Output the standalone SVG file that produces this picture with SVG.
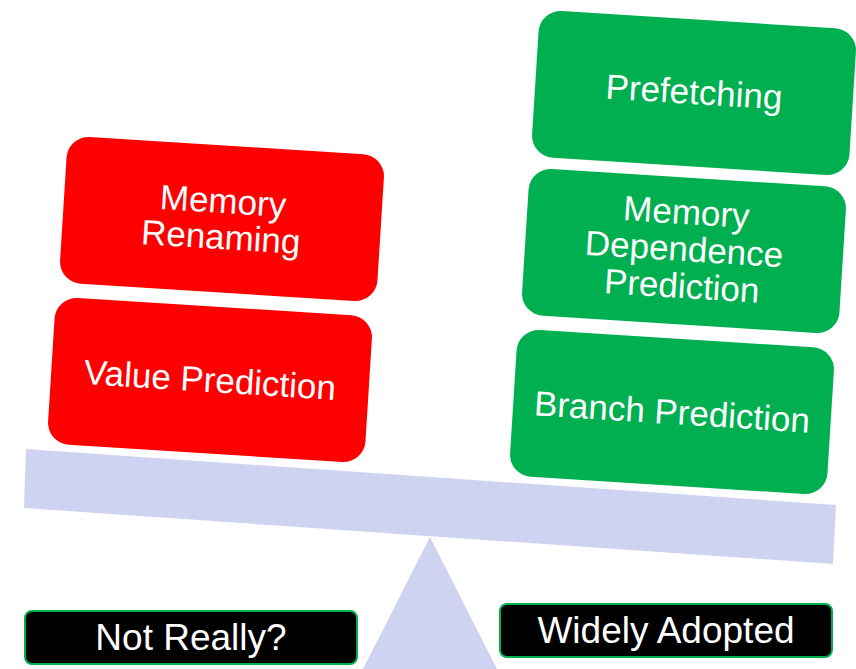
<svg xmlns="http://www.w3.org/2000/svg" width="856" height="669" viewBox="0 0 856 669">
<style>
.red{fill:#FF0000}
.green{fill:#00B050}
.lbl{fill:#000000;stroke:#00B050;stroke-width:2}
.t{font-family:"Liberation Sans",Arial,sans-serif;font-size:35px;fill:#FFFFFF;text-anchor:middle}
.tb{font-family:"Liberation Sans",Arial,sans-serif;font-size:37px;fill:#FFFFFF;text-anchor:middle}
.scale{fill:#CED3F2}
</style>
<rect width="856" height="669" fill="#FFFFFF"/>
<g id="scale">
<polygon class="scale" points="430,537 497,669 363,669"/>
<polygon class="scale" points="26,449 836,505 833,564 24,508"/>
</g>
<g id="memory-renaming" transform="translate(222,219) rotate(3.6)">
<rect class="red" x="-159" y="-73.5" width="318" height="147" rx="22"/>
<text class="t" x="0" y="-6">Memory</text>
<text class="t" x="0" y="30">Renaming</text>
</g>
<g id="value-prediction" transform="translate(210,380) rotate(3.6)">
<rect class="red" x="-159" y="-73.5" width="318" height="147" rx="22"/>
<text class="t" x="0" y="12">Value Prediction</text>
</g>
<g id="prefetching" transform="translate(694,93) rotate(3.6)">
<rect class="green" x="-159" y="-73.5" width="318" height="147" rx="22"/>
<text class="t" x="0" y="11">Prefetching</text>
</g>
<g id="memory-dependence-prediction" transform="translate(684,251) rotate(3.6)">
<rect class="green" x="-159" y="-73.5" width="318" height="147" rx="22"/>
<text class="t" x="0" y="-27">Memory</text>
<text class="t" x="0" y="10">Dependence</text>
<text class="t" x="0" y="47">Prediction</text>
</g>
<g id="branch-prediction" transform="translate(672,412) rotate(3.6)">
<rect class="green" x="-159" y="-73.5" width="318" height="147" rx="22"/>
<text class="t" x="0" y="12">Branch Prediction</text>
</g>
<g id="not-really">
<rect class="lbl" x="25" y="611" width="332" height="53" rx="7"/>
<text class="tb" x="191" y="650">Not Really?</text>
</g>
<g id="widely-adopted">
<rect class="lbl" x="500" y="604" width="332" height="53" rx="7"/>
<text class="tb" x="666" y="643">Widely Adopted</text>
</g>
<g id="connectors"/>
</svg>
